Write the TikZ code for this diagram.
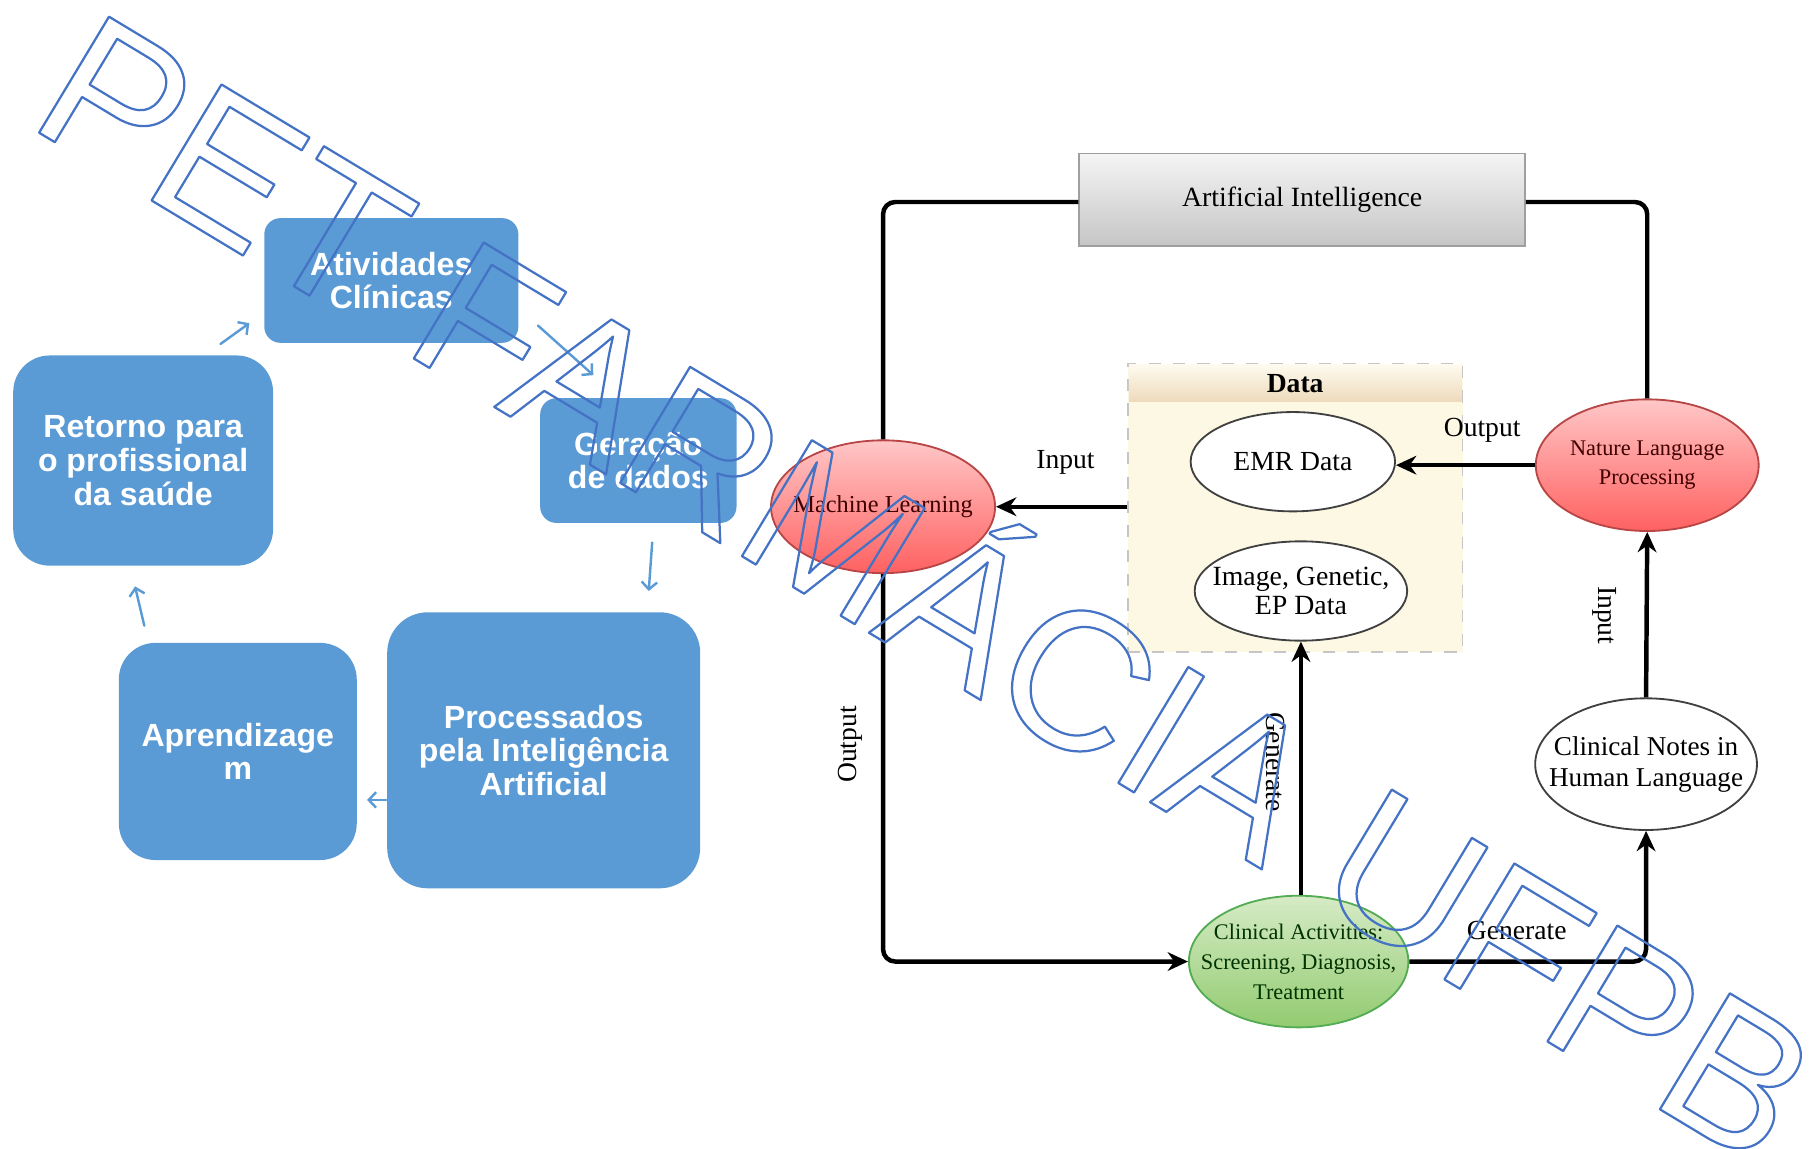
\documentclass[tikz,border=0pt]{standalone}
\usepackage{fontspec}
\setmainfont{Liberation Serif}
\newfontfamily\boxfont{Liberation Sans}
\usepackage{tikz}
\usetikzlibrary{arrows.meta,shapes.geometric}
\definecolor{boxblue}{HTML}{5B9BD5}
\definecolor{markblue}{HTML}{4472C4}
\definecolor{cream}{HTML}{FDF8E4}
\newcommand{\outlinetext}[1]{\special{pdf:code 1 Tr 0.55 w 1 j}#1\special{pdf:code 0 Tr}}
\tikzset{
  cyclebox/.style={fill=boxblue, text=white, align=center, inner sep=0pt,
    font=\boxfont\bfseries\fontsize{7.9}{8.3}\selectfont},
  cyclearrow/.style={draw=boxblue, line width=0.6pt, line cap=round,
    -{Straight Barb[length=1.8pt,width=3.8pt]}},
  bubble/.style={ellipse, draw=black!75, line width=0.45pt, fill=white,
    align=center, inner ysep=0pt, inner xsep=-6pt},
  redbubble/.style={bubble, draw=red!45!gray, top color=red!22, bottom color=red!62!white,
    text=black!75!red},
  greenbubble/.style={bubble, draw=green!35!gray, top color={rgb,255:red,214;green,235;blue,198},
    bottom color={rgb,255:red,146;green,203;blue,112}, text=black!80!green},
  flow/.style={line width=1.1pt, rounded corners=3pt, -{Stealth[length=5pt,width=4.6pt]}},
  lbl/.style={inner sep=0pt, font=\fontsize{6.8}{7}\selectfont},
}
\begin{document}
\begin{tikzpicture}[x=0.01cm, y=-0.01cm]
\useasboundingbox (0,0) rectangle (1568,995);
% ciclo
\node[cyclebox, minimum width=2.2cm, minimum height=1.08cm, rounded corners=4pt] (ativ) at (339,243) {Atividades\\Clínicas};
\node[cyclebox, minimum width=1.7cm, minimum height=1.08cm, rounded corners=4pt] (ger) at (553,399) {Geração\\de dados};
\node[cyclebox, minimum width=2.71cm, minimum height=2.39cm, rounded corners=10pt] (proc) at (471,650) {Processados\\pela Inteligência\\Artificial};
\node[cyclebox, minimum width=2.06cm, minimum height=1.88cm, rounded corners=9pt] (apr) at (206,651) {Aprendizage\\m};
\node[cyclebox, minimum width=2.25cm, minimum height=1.82cm, rounded corners=9pt] (ret) at (124,399) {Retorno para\\o profissional\\da saúde};
\coordinate (c1) at (191,298);
\coordinate (c2) at (216,280);
\coordinate (c3) at (466,282);
\coordinate (c4) at (514,325);
\coordinate (c5) at (565,470);
\coordinate (c6) at (562,512);
\coordinate (c7) at (318,693);
\coordinate (c8) at (125,542);
\coordinate (c9) at (117,508);
\draw[cyclearrow] (c1) -- (c2);
\draw[cyclearrow] (c3) -- (c4);
\draw[cyclearrow] (c5) -- (c6);
\draw[cyclearrow] (proc.west |- c7) -- (c7);
\draw[cyclearrow] (c8) -- (c9);
% diagrama
\node[draw=gray!75, top color=gray!8, bottom color=gray!45, minimum width=3.86cm, minimum height=0.8cm,
  font=\fontsize{6.85}{7}\selectfont] (ai) at (1128,173) {Artificial Intelligence};
\node[draw=gray!45, dashed, fill=cream, minimum width=2.9cm, minimum height=2.5cm] (data) at (1122,440) {};
\node[top color=cream!60!white, bottom color=brown!25!cream, minimum width=2.88cm, minimum height=0.32cm,
  inner sep=0pt, font=\bfseries\fontsize{6.8}{7}\selectfont] (datahead) at (1122,332) {Data};
\node[bubble, minimum width=1.77cm, minimum height=0.86cm, font=\fontsize{6.8}{7}\selectfont] (emr) at (1120,400) {EMR Data};
\node[bubble, minimum width=1.84cm, minimum height=0.86cm, font=\fontsize{6.85}{7.1}\selectfont] (img) at (1127,512) {Image, Genetic,\\EP Data};
\node[redbubble, minimum width=1.94cm, minimum height=1.15cm, font=\fontsize{6}{7}\selectfont] (ml) at (765,439) {Machine Learning};
\node[redbubble, minimum width=1.93cm, minimum height=1.14cm, font=\fontsize{5.5}{7.1}\selectfont] (nlp) at (1427,403) {Nature Language\\Processing};
\node[bubble, minimum width=1.92cm, minimum height=1.14cm, font=\fontsize{6.7}{7.7}\selectfont] (notes) at (1426,662) {Clinical Notes in\\Human Language};
\node[greenbubble, minimum width=1.9cm, minimum height=1.14cm, font=\fontsize{5.5}{7.4}\selectfont] (ca) at (1125,833) {Clinical Activities:\\Screening, Diagnosis,\\Treatment};
\draw[line width=1.1pt, rounded corners=3pt] (ai.west |- 0,175) -| (ml.north);
\draw[line width=1.1pt, rounded corners=3pt] (ai.east |- 0,175) -| (nlp.north);
\draw[flow] (data.west |- ml) -- (ml.east);
\draw[flow] (nlp.west) -- (nlp.west -| emr.east);
\draw[flow] (ml.south) |- (ca.west);
\draw[flow] (ca.north -| img.south) -- (img.south);
\draw[flow] (ca.east) -| (notes.south);
\draw[flow] (notes.north) -- (nlp.south);
\node[lbl] (l1) at (923,401) {Input};
\node[lbl] (l2) at (1284,373) {Output};
\node[lbl, rotate=90] (l3) at (737,645) {Output};
\node[lbl, rotate=-90] (l4) at (1105,660) {Generate};
\node[lbl] (l5) at (1314,806) {Generate};
\node[lbl, rotate=-90] (l6) at (1390,533) {Input};
% marca
\node[anchor=base west, rotate=-31.07, inner sep=0pt, text=markblue,
  font=\boxfont\fontsize{48.5}{50}\selectfont] (marca) at (21.3,107.4) {\outlinetext{PET FARMÁCIA UFPB}};
\end{tikzpicture}
\end{document}
